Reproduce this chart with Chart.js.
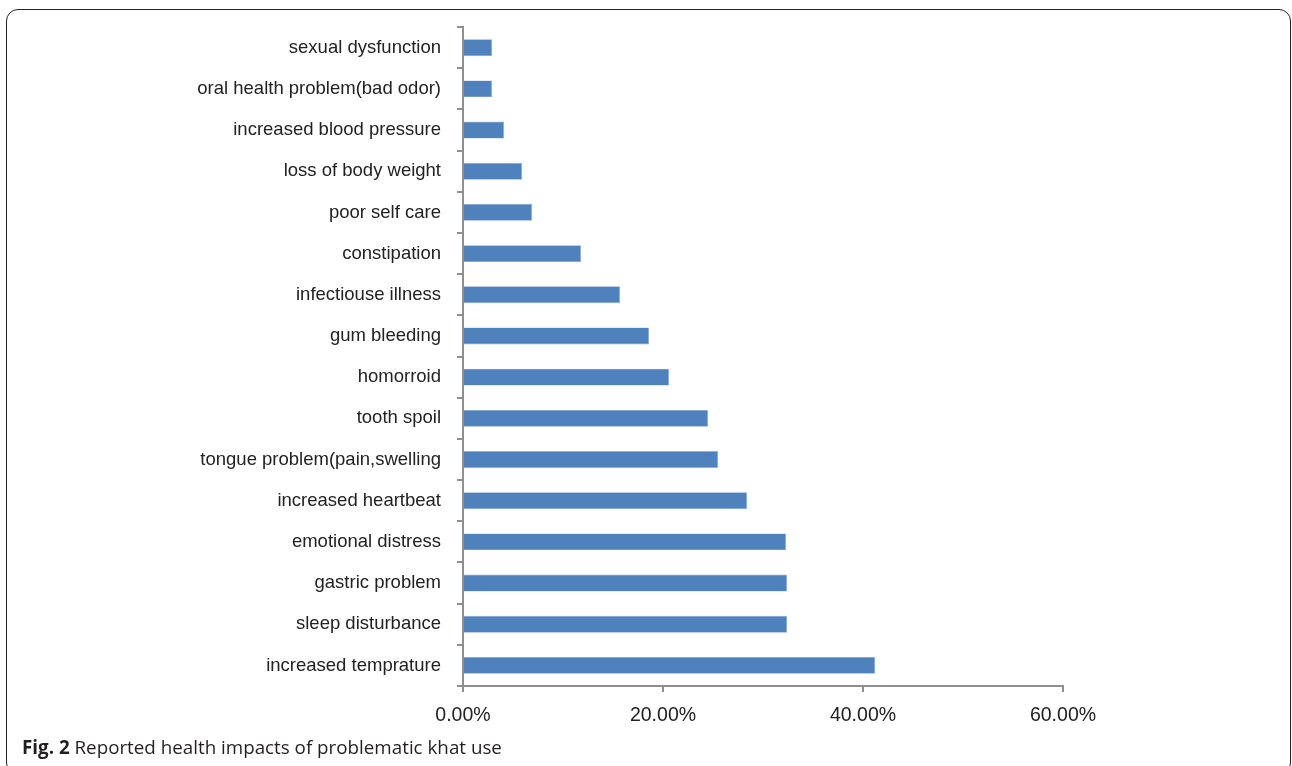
<!DOCTYPE html>
<html>
<head>
<meta charset="utf-8">
<script src="https://cdn.jsdelivr.net/npm/chart.js@4/dist/chart.umd.min.js"></script>
<style>
  html, body { margin: 0; padding: 0; background: #fff; width: 1292px; height: 766px; overflow: hidden; }
  #wrap { position: absolute; left: 0; top: 0; width: 1292px; height: 766px; }
  #frame { position: absolute; left: 6px; top: 9px; width: 1285px; height: 766px; border: 1.6px solid #222; border-radius: 12px; box-sizing: border-box; }
  #cv { position: absolute; left: 0; top: 0; }
  #caption { position: absolute; left: 22px; top: 734px; font-family: "Open Sans", sans-serif; font-size: 18.8px; color: #231f20; white-space: nowrap; }
  #caption b { font-weight: 700; }
</style>
</head>
<body>
<div id="wrap">
  <div id="frame"></div>
  <canvas id="cv" width="1292" height="766"></canvas>
  <div id="caption"><b>Fig. 2</b> Reported health impacts of problematic khat use</div>
</div>
<script>
const categories = [
  "sexual dysfunction",
  "oral health problem(bad odor)",
  "increased blood pressure",
  "loss of body weight",
  "poor self care",
  "constipation",
  "infectiouse illness",
  "gum bleeding",
  "homorroid",
  "tooth spoil",
  "tongue problem(pain,swelling",
  "increased heartbeat",
  "emotional distress",
  "gastric problem",
  "sleep disturbance",
  "increased temprature"
];
const values = [2.9, 2.9, 4.1, 5.9, 6.9, 11.8, 15.7, 18.6, 20.6, 24.5, 25.5, 28.4, 32.3, 32.4, 32.4, 41.2];
const xTicks = [0, 20, 40, 60];

const axisColor = '#8f8f8f';
new Chart(document.getElementById('cv'), {
  type: 'bar',
  data: {
    labels: categories,
    datasets: [{
      data: values,
      backgroundColor: '#4F81BD',
      borderColor: '#8EAADB',
      borderWidth: 0.6,
      categoryPercentage: 1,
      barPercentage: 0.41
    }]
  },
  options: {
    indexAxis: 'y',
    responsive: false,
    animation: false,
    devicePixelRatio: 1,
    layout: { padding: { top: 25, right: 229, left: 0, bottom: 0 } },
    plugins: { legend: { display: false }, tooltip: { enabled: false } },
    scales: {
      x: {
        type: 'linear',
        min: 0, max: 60,
        afterBuildTicks: (s) => { s.ticks = xTicks.map(v => ({ value: v })); },
        afterFit: (s) => { s.height = 80; },
        grid: { drawOnChartArea: false, tickLength: 6, color: axisColor, lineWidth: 2 },
        border: { color: axisColor, width: 2 },
        ticks: {
          callback: (v) => v.toFixed(2) + '%',
          color: '#222',
          padding: 12,
          maxRotation: 0,
          font: { family: 'Liberation Sans, Arial, sans-serif', size: 19.5 }
        }
      },
      y: {
        type: 'category',
        afterFit: (s) => { s.width = 463; },
        grid: { offset: true, drawOnChartArea: false, tickLength: 6, color: axisColor, lineWidth: 2 },
        border: { color: axisColor, width: 2 },
        ticks: {
          color: '#222',
          padding: 16,
          font: { family: 'Liberation Sans, Arial, sans-serif', size: 18.5 }
        }
      }
    }
  }
});
</script>
</body>
</html>
